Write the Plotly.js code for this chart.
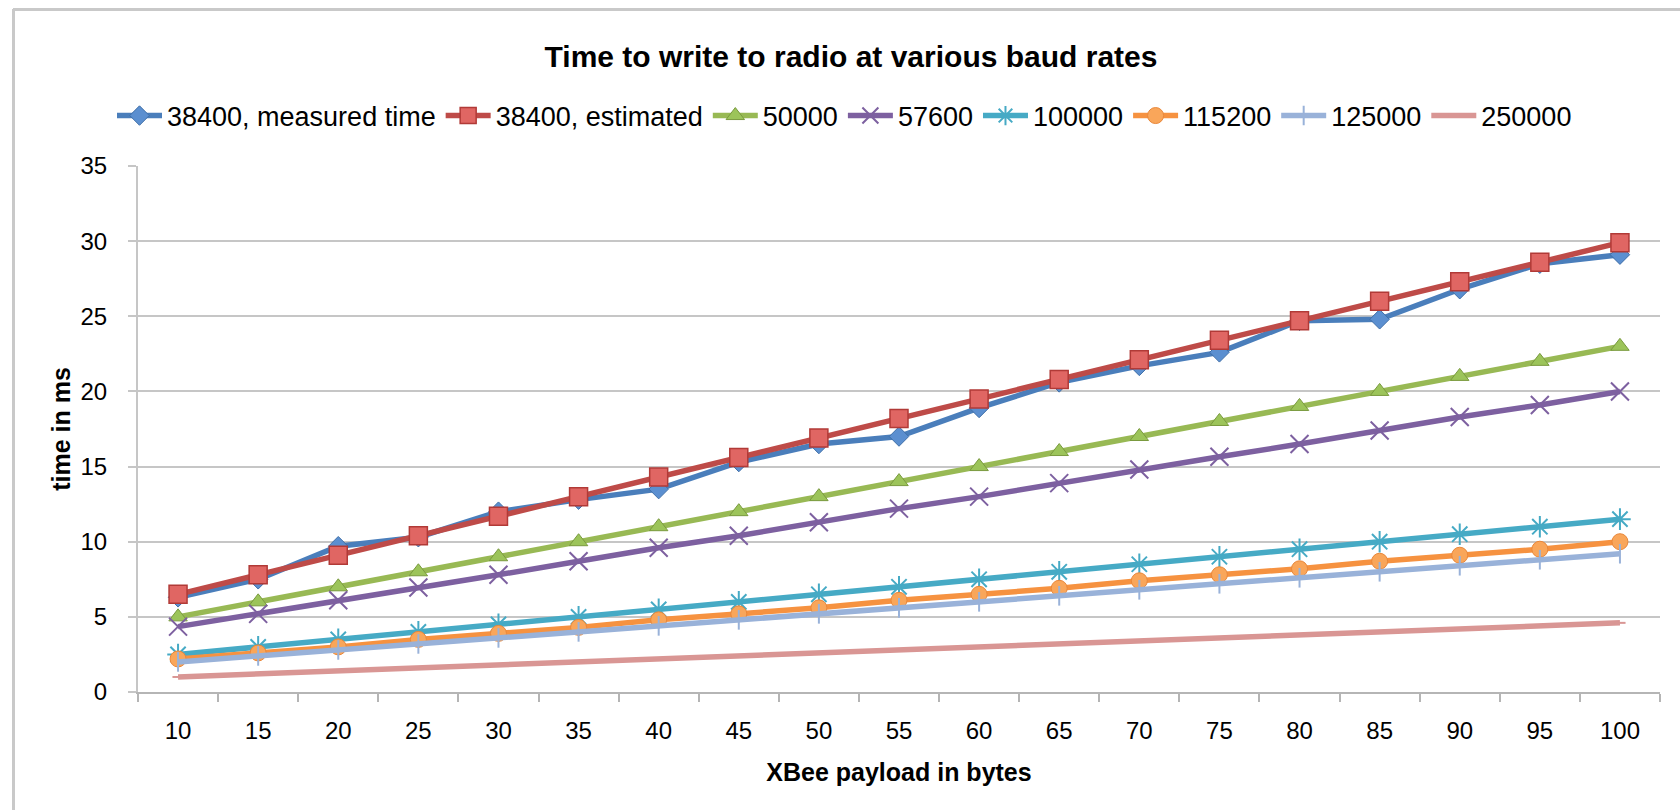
<!DOCTYPE html>
<html>
<head>
<meta charset="utf-8">
<script src="https://cdn.plot.ly/plotly-3.0.1.min.js"></script>
<style>
html,body{margin:0;padding:0;background:#fff;}
#chart{width:1680px;height:810px;}
</style>
</head>
<body>
<div id="chart"></div>
<script>
// ---- data ----
const payload = ["10","15","20","25","30","35","40","45","50","55","60","65","70","75","80","85","90","95","100"];
const seriesNames = ["38400, measured time","38400, estimated","50000","57600","100000","115200","125000","250000"];
const measured38400 = [6.3,7.5,9.7,10.3,12.0,12.8,13.5,15.3,16.5,17.0,18.9,20.6,21.7,22.6,24.7,24.8,26.8,28.5,29.1];
const estimated38400 = [6.5,7.8,9.1,10.4,11.7,13.0,14.3,15.6,16.9,18.2,19.5,20.8,22.1,23.4,24.7,26.0,27.3,28.6,29.9];
const baud50000 = [5,6,7,8,9,10,11,12,13,14,15,16,17,18,19,20,21,22,23];
const baud57600 = [4.35,5.2,6.1,6.95,7.8,8.7,9.6,10.4,11.3,12.2,13.0,13.9,14.8,15.65,16.5,17.4,18.3,19.1,20.0];
const baud100000 = [2.5,3.0,3.5,4.0,4.5,5.0,5.5,6.0,6.5,7.0,7.5,8.0,8.5,9.0,9.5,10.0,10.5,11.0,11.5];
const baud115200 = [2.2,2.6,3.0,3.5,3.9,4.3,4.8,5.2,5.6,6.1,6.5,6.9,7.4,7.8,8.2,8.7,9.1,9.5,10.0];
const baud125000 = [2.0,2.4,2.8,3.2,3.6,4.0,4.4,4.8,5.2,5.6,6.0,6.4,6.8,7.2,7.6,8.0,8.4,8.8,9.2];
const baud250000 = [1.0,1.2,1.4,1.6,1.8,2.0,2.2,2.4,2.6,2.8,3.0,3.2,3.4,3.6,3.8,4.0,4.2,4.4,4.6];

const allValues = [measured38400, estimated38400, baud50000, baud57600, baud100000, baud115200, baud125000, baud250000];

// ---- styles ----
const styles = [
  {line:'#4a7ebb', marker:{symbol:'diamond', size:15, color:'#5b8fd0', line:{color:'#3f6fa8', width:1}}},
  {line:'#be4b48', marker:{symbol:'square', size:18, color:'#e06663', line:{color:'#b13a37', width:1.5}}},
  {line:'#98b954', marker:{symbol:'triangle-up', size:16, color:'#9cc45a', line:{color:'#7a9a3f', width:1}}},
  {line:'#7d60a0', marker:{symbol:'x-thin-open', size:18, color:'#7d60a0', line:{color:'#7d60a0', width:2}}},
  {line:'#46aac5', marker:{symbol:'asterisk-open', size:18, color:'#46aac5', line:{color:'#46aac5', width:2}}},
  {line:'#f69240', marker:{symbol:'circle', size:16, color:'#f9a65a', line:{color:'#e9873a', width:1}}},
  {line:'#99b2d9', marker:{symbol:'line-ns-open', size:14, color:'#99b2d9', line:{color:'#99b2d9', width:2}}},
  {line:'#d99694', marker:{symbol:'line-ew-open', size:8, color:'#d99694', line:{color:'#d99694', width:2}}}
];

const traces = allValues.map((vals, i) => ({
  type: 'scatter',
  mode: 'lines+markers',
  name: seriesNames[i],
  x: payload,
  y: vals,
  line: {color: styles[i].line, width: 5.5},
  marker: styles[i].marker
}));

// frame geometry (plot area: x 138..1660, y 166..692)
const L = 138, R = 20, T = 166, B = 118;
const pw = 1680 - L - R, ph = 810 - T - B;
const px = v => (v - L) / pw;
const py = v => (810 - B - v) / ph;

const layout = {
  width: 1680, height: 810,
  margin: {l: L, r: R, t: T, b: B},
  paper_bgcolor: '#ffffff',
  plot_bgcolor: '#ffffff',
  font: {family: 'Liberation Sans, Arial, sans-serif', color: '#000000'},
  title: {
    text: 'Time to write to radio at various baud rates',
    font: {size: 30, family: 'Liberation Sans, Arial, sans-serif', weight: 'bold', color: '#000'},
    x: 851/1680, xref: 'container', xanchor: 'center',
    y: 1 - 56/810, yref: 'container', yanchor: 'middle'
  },
  showlegend: true,
  legend: {
    orientation: 'h',
    x: px(112), xanchor: 'left',
    y: py(116), yanchor: 'middle',
    font: {size: 27},
    itemwidth: 45,
    tracegroupgap: 0,
    bgcolor: 'rgba(0,0,0,0)'
  },
  xaxis: {
    type: 'category',
    range: [-0.5, 18.5],
    tickson: 'boundaries',
    ticks: 'outside', ticklen: 8, tickwidth: 2, tickcolor: '#b5b5b5',
    showgrid: false,
    showline: true, linecolor: '#b5b5b5', linewidth: 2,
    tickfont: {size: 24},
    ticklabelstandoff: 16,
    title: {text: 'XBee payload in bytes', font: {size: 25, weight: 'bold'}, standoff: 21},
    zeroline: false,
    fixedrange: true
  },
  yaxis: {
    range: [0, 35],
    tickvals: [0,5,10,15,20,25,30,35],
    ticks: 'outside', ticklen: 8, tickwidth: 2, tickcolor: '#c6c6c6',
    showgrid: true, gridcolor: '#c6c6c6', gridwidth: 2,
    showline: true, linecolor: '#c6c6c6', linewidth: 2,
    zeroline: false,
    tickfont: {size: 24},
    ticklabelstandoff: 16,
    title: {text: 'time in ms', font: {size: 25, weight: 'bold'}, standoff: 3},
    fixedrange: true
  },
  shapes: [
    {type:'line', xref:'paper', yref:'paper', x0: px(13), x1: px(1682), y0: py(9.5), y1: py(9.5), line:{color:'#c9c9c9', width:3}},
    {type:'line', xref:'paper', yref:'paper', x0: px(13.5), x1: px(13.5), y0: py(9), y1: py(812), line:{color:'#c9c9c9', width:3}}
  ]
};

Plotly.newPlot('chart', traces, layout, {displayModeBar: false, staticPlot: true});
</script>
</body>
</html>
